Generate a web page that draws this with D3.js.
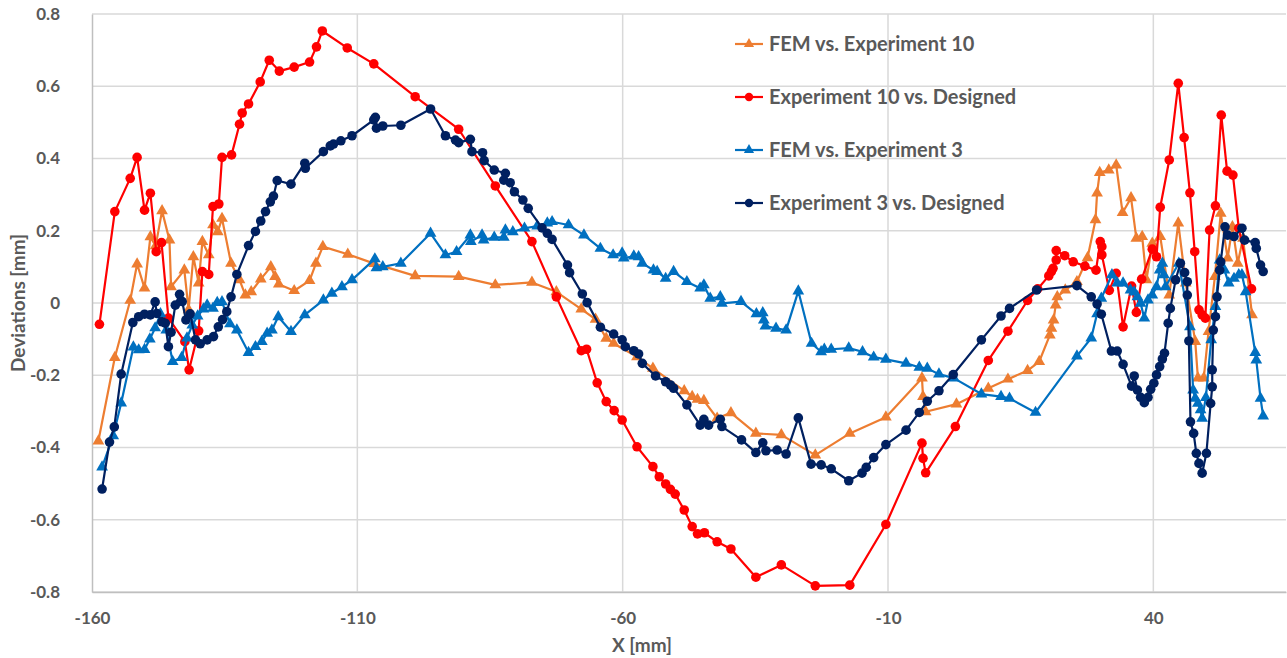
<!DOCTYPE html>
<html>
<head>
<meta charset="utf-8">
<script src="https://cdn.jsdelivr.net/npm/d3@7"></script>
<style>
  html, body { margin: 0; padding: 0; background: #fff; }
  svg { display: block; }
  text { font-family: Lato, "Open Sans", sans-serif; font-weight: 700; fill: #595959; }
</style>
</head>
<body>
<svg id="chart" width="1287" height="658"></svg>
<script>
// Deviation profiles along X [mm]
const femVsExp10X = [-158.8,-155.7,-152.8,-151.5,-150.1,-149.0,-148.0,-146.8,-145.4,-145.1,-142.6,-141.8,-140.9,-139.9,-139.2,-138.0,-137.2,-136.3,-135.5,-133.8,-132.2,-131.1,-130.0,-128.2,-126.3,-125.5,-124.8,-121.9,-119.0,-117.8,-116.5,-111.8,-106.8,-99.1,-90.9,-84.0,-77.1,-72.5,-67.8,-65.1,-63.1,-61.7,-57.3,-54.3,-48.4,-46.9,-45.9,-44.7,-42.2,-39.6,-34.9,-30.1,-23.7,-17.2,-10.4,-3.6,-3.4,-2.9,2.9,8.9,12.6,16.3,18.5,20.5,20.8,21.2,21.6,21.9,23.4,25.6,27.6,29.1,29.4,29.9,31.6,33.0,34.2,35.8,36.8,37.9,38.7,39.8,41.3,43.0,44.7,46.1,47.9,48.4,49.5,50.4,51.6,52.7,54.0,54.9,55.9,56.9,58.6];
const femVsExp10Y = [-0.382,-0.151,0.007,0.108,0.041,0.183,0.158,0.255,0.174,0.045,0.091,-0.019,0.128,0.055,0.170,0.133,0.216,0.197,0.234,0.110,0.064,0.022,0.031,0.066,0.100,0.073,0.052,0.034,0.062,0.110,0.156,0.135,0.109,0.075,0.073,0.050,0.057,0.031,-0.017,-0.045,-0.098,-0.112,-0.149,-0.181,-0.243,-0.259,-0.267,-0.270,-0.319,-0.304,-0.361,-0.365,-0.421,-0.361,-0.316,-0.208,-0.259,-0.301,-0.280,-0.236,-0.211,-0.187,-0.162,-0.089,-0.070,-0.047,-0.006,0.017,0.036,0.059,0.125,0.230,0.304,0.361,0.368,0.382,0.250,0.291,0.179,0.184,0.064,0.165,0.184,0.022,0.221,0.055,-0.107,-0.208,-0.208,-0.079,0.073,0.248,0.124,0.211,0.110,0.179,-0.033];

const exp10VsDesX = [-158.6,-155.7,-152.8,-151.5,-150.1,-149.0,-147.9,-146.9,-145.6,-142.5,-141.7,-139.9,-139.2,-138.0,-137.2,-136.1,-135.5,-133.7,-132.2,-131.7,-130.5,-128.3,-126.6,-124.7,-121.9,-119.0,-117.7,-116.6,-111.9,-106.9,-99.1,-90.9,-84.0,-77.1,-72.5,-67.8,-66.8,-64.8,-63.1,-61.6,-60.1,-57.3,-54.3,-53.1,-51.9,-51.0,-50.1,-48.4,-46.9,-45.9,-44.6,-42.2,-39.6,-34.9,-30.1,-23.7,-17.2,-10.4,-3.6,-3.4,-2.9,2.7,8.9,12.6,16.3,18.2,20.3,20.8,21.1,21.7,21.7,23.3,24.9,27.1,29.2,30.0,30.3,30.3,31.7,33.0,34.3,35.9,36.8,37.8,39.8,40.6,41.3,43.0,44.7,45.8,46.9,47.8,48.6,49.2,49.8,50.6,51.7,52.8,53.9,55.0,56.1,58.5];
const exp10VsDesY = [-0.059,0.253,0.345,0.403,0.257,0.304,0.142,0.167,-0.042,-0.107,-0.185,-0.077,0.087,0.079,0.267,0.274,0.403,0.410,0.495,0.526,0.551,0.612,0.672,0.642,0.653,0.667,0.709,0.753,0.706,0.662,0.571,0.481,0.324,0.170,0.017,-0.132,-0.128,-0.221,-0.273,-0.298,-0.324,-0.398,-0.453,-0.481,-0.501,-0.516,-0.529,-0.573,-0.619,-0.639,-0.636,-0.661,-0.681,-0.759,-0.725,-0.783,-0.781,-0.613,-0.388,-0.430,-0.470,-0.342,-0.159,-0.078,0.007,0.039,0.075,0.087,0.096,0.119,0.145,0.131,0.114,0.102,0.091,0.170,0.156,0.133,0.035,0.082,-0.066,0.047,-0.026,0.066,0.149,0.128,0.265,0.396,0.608,0.458,0.305,0.142,-0.019,-0.033,-0.042,0.202,0.269,0.520,0.365,0.354,0.207,0.039];

const femVsExp3X = [-158.1,-156.0,-154.5,-152.2,-151.2,-150.1,-149.1,-148.1,-147.1,-146.0,-144.8,-143.1,-142.1,-141.1,-140.1,-139.0,-138.3,-137.2,-136.4,-135.5,-134.0,-132.7,-130.5,-129.2,-128.0,-127.0,-126.1,-124.9,-122.5,-119.9,-116.4,-114.8,-112.9,-111.0,-106.7,-106.4,-105.2,-101.8,-96.2,-93.4,-91.3,-88.7,-88.6,-86.5,-86.2,-84.2,-82.4,-82.1,-80.7,-78.5,-76.1,-74.2,-73.3,-70.2,-67.3,-64.2,-61.8,-60.1,-59.8,-57.9,-57.0,-56.3,-54.2,-53.5,-51.9,-50.4,-47.9,-45.4,-44.7,-43.5,-41.6,-41.3,-37.7,-34.8,-33.6,-33.4,-33.1,-31.1,-29.2,-26.9,-24.4,-22.6,-22.0,-20.7,-17.4,-14.8,-12.7,-10.4,-6.6,-4.1,-2.6,-0.4,2.4,7.6,11.3,12.9,17.8,25.6,28.3,29.4,30.2,32.2,33.2,34.3,35.7,36.4,37.0,37.6,38.3,39.0,39.8,40.6,41.2,41.7,42.0,42.3,44.8,46.9,47.5,47.9,48.4,48.9,49.2,49.9,50.9,51.7,52.5,53.4,54.2,55.2,56.1,56.7,57.4,59.2,59.4,60.2,60.7];
const femVsExp3Y = [-0.454,-0.368,-0.277,-0.122,-0.130,-0.129,-0.100,-0.069,-0.030,-0.075,-0.162,-0.151,-0.097,-0.061,-0.036,-0.017,-0.006,-0.015,0.001,0.003,-0.058,-0.075,-0.137,-0.121,-0.107,-0.084,-0.075,-0.038,-0.079,-0.033,0.008,0.027,0.045,0.064,0.122,0.097,0.100,0.110,0.193,0.133,0.142,0.188,0.170,0.188,0.174,0.182,0.182,0.202,0.197,0.207,0.213,0.221,0.225,0.216,0.188,0.151,0.133,0.138,0.124,0.130,0.128,0.110,0.091,0.087,0.068,0.087,0.059,0.041,0.050,0.013,0.017,-0.001,0.004,-0.030,-0.027,-0.047,-0.064,-0.070,-0.075,0.033,-0.112,-0.135,-0.128,-0.128,-0.125,-0.135,-0.150,-0.156,-0.167,-0.178,-0.181,-0.197,-0.208,-0.252,-0.259,-0.264,-0.303,-0.147,-0.097,-0.030,0.013,0.078,0.055,0.055,0.036,0.030,0.017,-0.001,-0.042,0.008,0.022,0.045,0.091,0.110,0.078,0.045,0.110,-0.066,-0.241,-0.264,-0.278,-0.296,-0.319,-0.262,-0.102,-0.010,0.119,0.091,0.055,0.068,0.078,0.078,0.031,-0.137,-0.158,-0.264,-0.313];

const exp3VsDesX = [-158.1,-156.7,-155.8,-154.5,-152.3,-151.2,-150.1,-149.0,-148.1,-147.8,-146.8,-146.2,-145.6,-145.1,-144.3,-143.5,-143.0,-142.3,-141.5,-140.5,-139.6,-138.3,-137.1,-136.2,-135.4,-134.6,-133.8,-132.7,-130.5,-129.2,-128.2,-127.3,-126.4,-125.8,-125.1,-122.5,-119.9,-119.8,-116.4,-115.1,-114.5,-113.1,-111.0,-106.9,-106.6,-106.4,-105.2,-101.8,-96.2,-93.4,-91.5,-90.9,-88.7,-88.4,-86.4,-86.1,-84.2,-82.1,-82.4,-81.2,-80.4,-78.8,-77.8,-75.2,-74.2,-73.3,-70.4,-70.0,-67.6,-66.7,-64.2,-61.7,-60.1,-59.5,-57.9,-57.0,-56.3,-53.8,-51.9,-51.0,-50.4,-47.9,-45.4,-44.7,-43.8,-41.6,-41.3,-37.6,-34.9,-33.6,-33.0,-30.9,-29.2,-26.9,-24.5,-22.6,-20.7,-17.4,-14.9,-14.1,-12.7,-10.4,-6.6,-4.1,-2.6,-0.4,2.3,7.6,11.3,12.9,18.0,25.6,28.3,29.4,30.2,32.1,33.2,34.3,35.9,36.4,37.0,37.6,38.3,39.0,39.5,40.1,40.6,41.2,41.7,42.1,42.8,43.2,44.2,45.1,45.9,46.4,46.4,46.7,47.0,47.6,48.1,48.6,49.2,50.0,50.8,51.1,51.1,51.3,51.7,52.0,52.5,52.7,53.5,54.0,55.2,56.7,57.2,59.2,59.4,60.2,60.7];
const exp3VsDesY = [-0.515,-0.385,-0.343,-0.197,-0.054,-0.038,-0.031,-0.033,0.003,-0.029,-0.052,-0.056,-0.121,-0.081,-0.006,0.024,0.004,-0.047,-0.030,-0.102,-0.113,-0.102,-0.093,-0.066,-0.046,-0.024,0.017,0.079,0.159,0.198,0.227,0.253,0.280,0.296,0.339,0.329,0.387,0.373,0.419,0.435,0.440,0.449,0.463,0.507,0.514,0.484,0.490,0.492,0.537,0.463,0.451,0.444,0.453,0.419,0.416,0.394,0.368,0.359,0.340,0.333,0.308,0.285,0.262,0.208,0.193,0.176,0.105,0.084,0.025,0.001,-0.067,-0.086,-0.102,-0.121,-0.132,-0.141,-0.167,-0.202,-0.218,-0.227,-0.236,-0.282,-0.338,-0.322,-0.338,-0.322,-0.342,-0.379,-0.414,-0.387,-0.409,-0.407,-0.418,-0.318,-0.446,-0.448,-0.459,-0.492,-0.471,-0.455,-0.428,-0.392,-0.352,-0.303,-0.272,-0.243,-0.198,-0.102,-0.036,-0.015,0.036,0.048,0.017,-0.003,-0.031,-0.133,-0.133,-0.170,-0.230,-0.202,-0.241,-0.261,-0.276,-0.261,-0.239,-0.222,-0.199,-0.176,-0.155,-0.139,-0.056,-0.015,0.064,0.110,0.084,0.059,0.022,-0.105,-0.329,-0.361,-0.416,-0.444,-0.471,-0.416,-0.278,-0.232,-0.185,-0.075,-0.038,0.017,0.091,0.114,0.211,0.188,0.184,0.207,0.174,0.167,0.151,0.105,0.087];

const xTicks = [-160, -110, -60, -10, 40];
const yTicks = [-0.8, -0.6, -0.4, -0.2, 0, 0.2, 0.4, 0.6, 0.8];

const seriesNames = ["FEM vs. Experiment 10", "Experiment 10 vs. Designed", "FEM vs. Experiment 3", "Experiment 3 vs. Designed"];
const seriesColors = ["#ED7D31", "#FF0000", "#0070C0", "#002060"];
const seriesMarkers = ["triangle", "circle", "triangle", "circle"];

const series = [
  {name: seriesNames[0], color: seriesColors[0], marker: seriesMarkers[0], x: femVsExp10X, y: femVsExp10Y},
  {name: seriesNames[1], color: seriesColors[1], marker: seriesMarkers[1], x: exp10VsDesX, y: exp10VsDesY},
  {name: seriesNames[2], color: seriesColors[2], marker: seriesMarkers[2], x: femVsExp3X, y: femVsExp3Y},
  {name: seriesNames[3], color: seriesColors[3], marker: seriesMarkers[3], x: exp3VsDesX, y: exp3VsDesY}
];

const svg = d3.select("#chart");
const margin = {left: 92, right: 1, top: 14, bottom: 66};
const W = 1287, H = 658;

const x = d3.scaleLinear().domain([-160, 65]).range([margin.left, W - margin.right]);
const y = d3.scaleLinear().domain([-0.8, 0.8]).range([H - margin.bottom, margin.top]);

// plain hyphen-minus for negative tick labels
const hyphen = s => s.replace("\u2212", "-");

// gridlines
svg.append("g").selectAll("line.h").data(yTicks).join("line")
  .attr("x1", x(-160)).attr("x2", x(65))
  .attr("y1", d => y(d)).attr("y2", d => y(d))
  .attr("stroke", "#d9d9d9").attr("stroke-width", 1.5);
svg.append("g").selectAll("line.v").data(xTicks.slice(1)).join("line")
  .attr("x1", d => x(d)).attr("x2", d => x(d))
  .attr("y1", y(0.8)).attr("y2", y(-0.8))
  .attr("stroke", "#d9d9d9").attr("stroke-width", 1.5);

// axes
const xAxis = d3.axisBottom(x).tickValues(xTicks).tickSize(0).tickPadding(20)
  .tickFormat(d => hyphen(d3.format("d")(d)));
const gx = svg.append("g").attr("transform", `translate(0,${y(-0.8)})`).call(xAxis);
gx.select(".domain").attr("stroke", "#bfbfbf").attr("stroke-width", 1.5);
gx.selectAll("text").attr("font-size", 17).attr("fill", "#595959").style("font-family", "Lato, sans-serif");

const yAxis = d3.axisLeft(y).tickValues(yTicks).tickSize(0).tickPadding(32)
  .tickFormat(d => d === 0 ? "0" : hyphen(d3.format(".1f")(d)));
const gy = svg.append("g").attr("transform", `translate(${x(-160)},0)`).call(yAxis);
gy.select(".domain").attr("stroke", "#bfbfbf").attr("stroke-width", 1.5);
gy.selectAll("text").attr("font-size", 17).attr("fill", "#595959").style("font-family", "Lato, sans-serif");

// axis titles
svg.append("text").attr("x", 642).attr("y", 652).attr("text-anchor", "middle")
  .attr("font-size", 19).text("X [mm]");
svg.append("text").attr("transform", `translate(25,${y(0)}) rotate(-90)`)
  .attr("text-anchor", "middle").attr("font-size", 19).text("Deviations [mm]");

const line = d3.line().x(d => x(d[0])).y(d => y(d[1]));
const tri = d3.symbol().type(d3.symbolTriangle).size(60);
const triSmall = d3.symbol().type(d3.symbolTriangle).size(45);

series.forEach(s => {
  const pts = s.x.map((v, i) => [v, s.y[i]]);
  const g = svg.append("g");
  g.append("path").datum(pts).attr("d", line)
    .attr("fill", "none").attr("stroke", s.color).attr("stroke-width", 2.2)
    .attr("stroke-linejoin", "round");
  if (s.marker === "circle") {
    g.selectAll("circle").data(pts).join("circle")
      .attr("cx", d => x(d[0])).attr("cy", d => y(d[1])).attr("r", 4.8)
      .attr("fill", s.color);
  } else {
    g.selectAll("path.m").data(pts).join("path").attr("class", "m")
      .attr("d", tri).attr("transform", d => `translate(${x(d[0])},${y(d[1])})`)
      .attr("fill", s.color);
  }
});

// legend
const legend = svg.append("g");
series.forEach((s, i) => {
  const ly = 44 + i * 53;
  const gi = legend.append("g");
  gi.append("line").attr("x1", 735).attr("x2", 763).attr("y1", ly).attr("y2", ly)
    .attr("stroke", s.color).attr("stroke-width", 2.2);
  if (s.marker === "circle") {
    gi.append("circle").attr("cx", 749).attr("cy", ly).attr("r", 4.2).attr("fill", s.color);
  } else {
    gi.append("path").attr("d", triSmall).attr("transform", `translate(749,${ly})`).attr("fill", s.color);
  }
  gi.append("text").attr("x", 769).attr("y", ly).attr("dy", "0.35em")
    .attr("font-size", 20).text(s.name);
});
</script>
</body>
</html>
